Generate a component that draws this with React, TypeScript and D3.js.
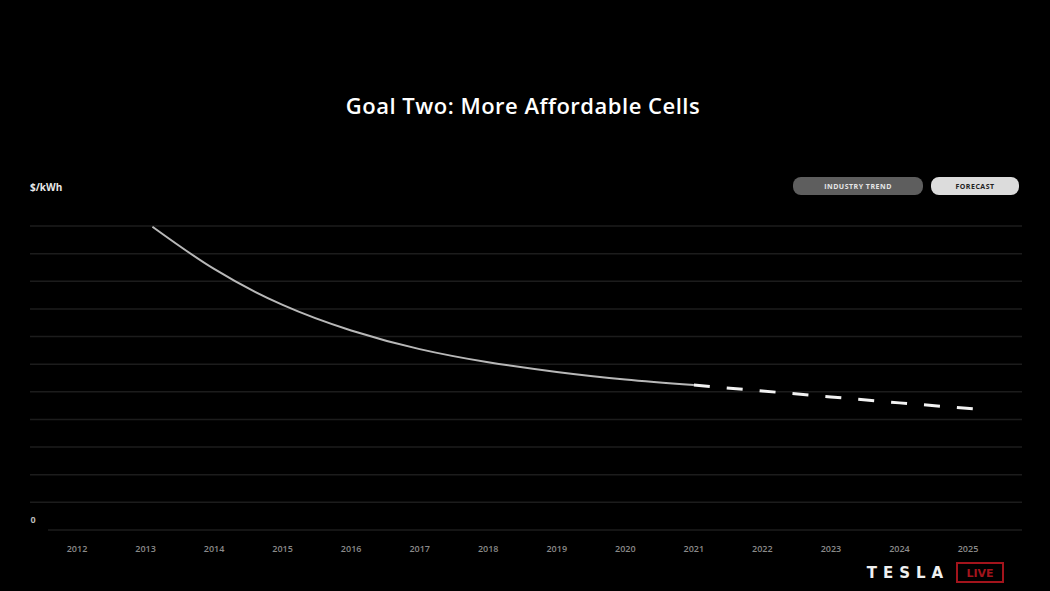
import React, { useEffect, useRef } from "react";
import * as d3 from "d3";

// years shown on the x axis
const years = [2012, 2013, 2014, 2015, 2016, 2017, 2018, 2019, 2020, 2021, 2022, 2023, 2024, 2025];

// industry trend (solid) ($/kWh, unlabelled scale)
const trendYears = [2013.1, 2014, 2015, 2016, 2017, 2018, 2019, 2020, 2021];
const trendValues = [219.5, 188.9, 162.9, 144.4, 130.9, 121.4, 114.4, 108.9, 104.9];

// forecast (dashed)
const forecastYears = [2021, 2022, 2023, 2024, 2025.07];
const forecastValues = [104.9, 100.6, 96.3, 92, 87.7];

const gridTicks = d3.range(0, 221, 20);

const W = 1050;
const H = 591;

const App = () => {
  const ref = useRef<SVGSVGElement | null>(null);

  useEffect(() => {
    const svg = d3.select(ref.current);
    svg.selectAll("*").remove();

    const x = d3.scaleLinear().domain([2012, 2025]).range([77, 968]);
    const y = d3.scaleLinear().domain([0, 220]).range([530, 226]);

    svg.append("rect").attr("width", W).attr("height", H).attr("fill", "#000");

    // title
    svg
      .append("text")
      .attr("x", 523)
      .attr("y", 114)
      .attr("text-anchor", "middle")
      .attr("fill", "#fff")
      .style("font", "600 22px 'Open Sans', sans-serif")
      .style("letter-spacing", "0.5px")
      .text("Goal Two: More Affordable Cells");

    svg
      .append("text")
      .attr("x", 30)
      .attr("y", 191)
      .attr("fill", "#e8e8e8")
      .style("font", "bold 10px 'Open Sans', sans-serif")
      .text("$/kWh");

    // grid
    svg
      .append("g")
      .selectAll("line")
      .data(gridTicks)
      .join("line")
      .attr("x1", (d) => (d === 0 ? 48 : 30))
      .attr("x2", 1022)
      .attr("y1", (d) => y(d))
      .attr("y2", (d) => y(d))
      .attr("stroke", "#1c1c1c")
      .attr("stroke-width", 1.5);

    svg
      .append("text")
      .attr("x", 33)
      .attr("y", 523)
      .attr("text-anchor", "middle")
      .attr("fill", "#bbb")
      .style("font", "bold 9px 'Open Sans', sans-serif")
      .text("0");

    // x labels
    svg
      .append("g")
      .selectAll("text")
      .data(years)
      .join("text")
      .attr("x", (d) => x(d))
      .attr("y", 552)
      .attr("text-anchor", "middle")
      .attr("fill", "#8a8a8a")
      .style("font", "600 9px 'Open Sans', sans-serif")
      .text((d) => d);

    const trend = trendYears.map((d, i) => [x(d), y(trendValues[i])] as [number, number]);
    const forecast = forecastYears.map((d, i) => [x(d), y(forecastValues[i])] as [number, number]);

    svg
      .append("path")
      .attr("d", d3.line().curve(d3.curveNatural)(trend))
      .attr("fill", "none")
      .attr("stroke", "#b8b8b8")
      .attr("stroke-width", 2);

    svg
      .append("path")
      .attr("d", d3.line()(forecast))
      .attr("fill", "none")
      .attr("stroke", "#f2f2f2")
      .attr("stroke-width", 3)
      .attr("stroke-dasharray", "16 17");

    // legend pills
    const legend = [
      { label: "INDUSTRY TREND", x: 793, w: 130, fill: "#5e5e5e", text: "#e6e6e6" },
      { label: "FORECAST", x: 931, w: 88, fill: "#dcdcdc", text: "#222" },
    ];
    const lg = svg.append("g").selectAll("g").data(legend).join("g");
    lg.append("rect")
      .attr("x", (d) => d.x)
      .attr("y", 177)
      .attr("width", (d) => d.w)
      .attr("height", 18)
      .attr("rx", 8)
      .attr("fill", (d) => d.fill);
    lg.append("text")
      .attr("x", (d) => d.x + d.w / 2)
      .attr("y", 189)
      .attr("text-anchor", "middle")
      .attr("fill", (d) => d.text)
      .style("font", "bold 7px 'Open Sans', sans-serif")
      .style("letter-spacing", "0.5px")
      .text((d) => d.label);

    // logo
    svg
      .append("text")
      .attr("x", 908)
      .attr("y", 578)
      .attr("text-anchor", "middle")
      .attr("fill", "#f0f0f0")
      .style("font", "bold 15px 'DejaVu Sans', sans-serif")
      .style("letter-spacing", "6px")
      .text("TESLA");
    svg
      .append("rect")
      .attr("x", 957)
      .attr("y", 563)
      .attr("width", 46)
      .attr("height", 19)
      .attr("fill", "none")
      .attr("stroke", "#a3141c")
      .attr("stroke-width", 2);
    svg
      .append("text")
      .attr("x", 980)
      .attr("y", 577)
      .attr("text-anchor", "middle")
      .attr("fill", "#a3141c")
      .style("font", "bold 11px 'DejaVu Sans', sans-serif")
      .text("LIVE");
  }, []);

  return (
    <svg
      ref={ref}
      width={W}
      height={H}
      style={{ position: "absolute", left: 0, top: 0, background: "#000" }}
    />
  );
};

export default App;
